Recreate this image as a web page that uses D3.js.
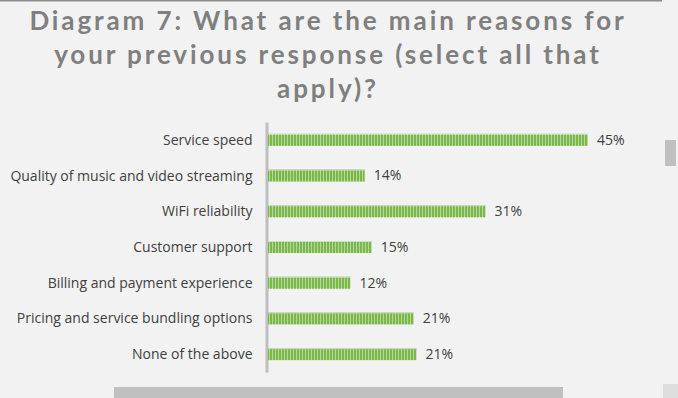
<!DOCTYPE html>
<html>
<head>
<meta charset="utf-8">
<script src="https://cdn.jsdelivr.net/npm/d3@7"></script>
<style>
  body { margin: 0; background: #f2f2f2; }
  svg { display: block; font-family: "Open Sans", Lato, sans-serif; }
</style>
</head>
<body>
<div id="chart"></div>
<script>
// chart data
var categories = [
  "Service speed",
  "Quality of music and video streaming",
  "WiFi reliability",
  "Customer support",
  "Billing and payment experience",
  "Pricing and service bundling options",
  "None of the above"
];
var values = [45, 13.6, 30.6, 14.6, 11.6, 20.5, 20.9];
var titleLines = [
  "Diagram 7: What are the main reasons for",
  "your previous response (select all that",
  "apply)?"
];

var svgWidth = 678;
var svgHeight = 398;

var svg = d3.select("#chart")
  .append("svg")
  .attr("width", svgWidth)
  .attr("height", svgHeight);

// background
svg.append("rect")
  .attr("width", svgWidth)
  .attr("height", svgHeight)
  .attr("fill", "#f2f2f2");

// thin line at the top
svg.append("rect")
  .attr("x", 0).attr("y", 0)
  .attr("width", 662).attr("height", 1.5)
  .attr("fill", "#8c8c8c");

// stripe pattern for the bars
var defs = svg.append("defs");
var pat = defs.append("pattern")
  .attr("id", "stripes")
  .attr("patternUnits", "userSpaceOnUse")
  .attr("width", 3)
  .attr("height", 12);
pat.append("rect").attr("width", 3).attr("height", 12).attr("fill", "#7cb74a");
pat.append("rect").attr("x", 2).attr("width", 1).attr("height", 12).attr("fill", "#b4d89a");

// title
svg.append("g")
  .selectAll("text")
  .data(titleLines)
  .enter()
  .append("text")
  .attr("x", 328)
  .attr("y", (d, i) => 30 + i * 34)
  .attr("text-anchor", "middle")
  .attr("fill", "#7f7f7f")
  .attr("font-family", "Lato, sans-serif")
  .attr("font-size", "26px")
  .attr("font-weight", "bold")
  .attr("letter-spacing", "2.9px")
  .text(d => d);

// scales
var xScale = d3.scaleLinear()
  .domain([0, 45])
  .range([268, 588]);

var yScale = d3.scalePoint()
  .domain(categories)
  .range([122, 372])
  .padding(0.5);

var barH = 12;

// y axis
var yAxis = d3.axisLeft(yScale)
  .tickSize(0)
  .tickPadding(14);

var axisG = svg.append("g")
  .attr("transform", "translate(266.5,0)")
  .call(yAxis);
axisG.select(".domain")
  .attr("stroke", "#bfbfbf")
  .attr("stroke-width", 3);
axisG.selectAll("text")
  .attr("fill", "#404040")
  .attr("font-size", "14px")
  .attr("font-family", "'Open Sans', sans-serif");

// bars
svg.append("g")
  .selectAll("rect")
  .data(values)
  .enter()
  .append("rect")
  .attr("x", xScale(0))
  .attr("y", (d, i) => yScale(categories[i]) - barH / 2)
  .attr("width", d => xScale(d) - xScale(0))
  .attr("height", barH)
  .attr("fill", "url(#stripes)");

// light edge on top of bars
svg.append("g")
  .selectAll("line")
  .data(values)
  .enter()
  .append("line")
  .attr("x1", xScale(0))
  .attr("x2", d => xScale(d))
  .attr("y1", (d, i) => yScale(categories[i]) - barH / 2 + 0.5)
  .attr("y2", (d, i) => yScale(categories[i]) - barH / 2 + 0.5)
  .attr("stroke", "#cfdcc4")
  .attr("stroke-width", 1);

// value labels
svg.append("g")
  .selectAll("text")
  .data(values)
  .enter()
  .append("text")
  .attr("x", d => xScale(d) + 9)
  .attr("y", (d, i) => yScale(categories[i]))
  .attr("dy", "0.35em")
  .attr("fill", "#404040")
  .attr("font-size", "14px")
  .text(d => Math.round(d) + "%");

// scrollbar-like bits from the screenshot
svg.append("rect")
  .attr("x", 114).attr("y", 387)
  .attr("width", 449).attr("height", 11)
  .attr("fill", "#c0c0c0");
svg.append("rect")
  .attr("x", 663).attr("y", 384)
  .attr("width", 15).attr("height", 14)
  .attr("fill", "#dedede");
svg.append("rect")
  .attr("x", 665).attr("y", 140)
  .attr("width", 11).attr("height", 26)
  .attr("fill", "#c0c0c0");
</script>
</body>
</html>
